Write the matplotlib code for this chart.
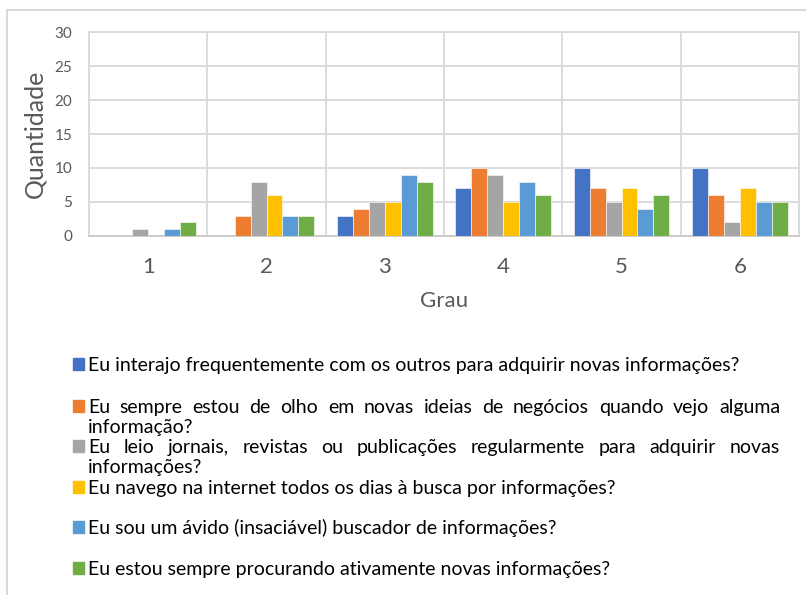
import numpy as np
import matplotlib.pyplot as plt
from matplotlib.patches import Rectangle

# data
grau = ['1', '2', '3', '4', '5', '6']
perguntas = [
    'Eu interajo frequentemente com os outros para adquirir novas informações?',
    'Eu sempre estou de olho em novas ideias de negócios quando vejo alguma informação?',
    'Eu leio jornais, revistas ou publicações regularmente para adquirir novas informações?',
    'Eu navego na internet todos os dias à busca por informações?',
    'Eu sou um ávido (insaciável) buscador de informações?',
    'Eu estou sempre procurando ativamente novas informações?',
]
interajo = [0, 0, 3, 7, 10, 10]
ideias = [0, 3, 4, 10, 7, 6]
jornais = [1, 8, 5, 9, 5, 2]
internet = [0, 6, 5, 5, 7, 7]
avido = [1, 3, 9, 8, 4, 5]
ativamente = [2, 3, 8, 6, 6, 5]
series = [interajo, ideias, jornais, internet, avido, ativamente]
cores = ['#4472C4', '#ED7D31', '#A5A5A5', '#FFC000', '#5B9BD5', '#70AD47']

plt.rcParams['font.family'] = ['Lato', 'DejaVu Sans']
W, H = 806, 595
grid_c = '#d9d9d9'
txt_c = '#595959'

fig = plt.figure(figsize=(W / 100, H / 100), dpi=100)

# outer chart frame (only top/left visible in the crop)
fig.patches.append(Rectangle((7 / W, -0.1), 1.2, 1 - 10 / H + 0.1,
                             transform=fig.transFigure, fill=False,
                             edgecolor=grid_c, linewidth=1.5))

ax = fig.add_axes([89 / W, 1 - 236 / H, 710 / W, 204 / H])
x = np.arange(len(grau))
width = 0.135
for i, (vals, cor) in enumerate(zip(series, cores)):
    ax.bar(x + (i - 2.5) * width, vals, width, color=cor,
           edgecolor='white', linewidth=0.4, zorder=3)

ax.set_xlim(-0.5, len(grau) - 0.5)
ax.set_ylim(0, 30)
ax.set_yticks(range(0, 31, 5))
ax.set_xticks(x)
ax.set_xticklabels(grau)
ax.set_xticks(np.arange(-0.5, len(grau), 1), minor=True)
ax.grid(True, which='major', axis='y', color=grid_c, linewidth=1.3, zorder=0)
ax.grid(True, which='minor', axis='x', color=grid_c, linewidth=1.3, zorder=0)
ax.tick_params(axis='y', length=0, pad=12, labelsize=11, labelcolor=txt_c)
ax.tick_params(axis='x', which='major', length=0, pad=15, labelsize=16,
               labelcolor=txt_c)
ax.tick_params(axis='x', which='minor', length=0)
for s in ax.spines.values():
    s.set_color(grid_c)
    s.set_linewidth(1.3)
ax.spines['bottom'].set_color('#c8c8c8')
ax.set_xlabel('Grau', fontsize=16, color=txt_c, labelpad=10)
ax.set_ylabel('Quantidade', fontsize=18, color=txt_c, labelpad=6)

# legend drawn by hand, with justified wrapped lines like the original
renderer = fig.canvas.get_renderer()
leg_size = 14
x0, x1 = 88, 780


def line(txt, base, justify=False):
    if not justify:
        fig.text(x0 / W, 1 - base / H, txt, fontsize=leg_size,
                 color='black', va='baseline')
        return
    words = txt.split()
    ts = [fig.text(0, 1 - base / H, w, fontsize=leg_size, color='black',
                   va='baseline') for w in words]
    ws = [t.get_window_extent(renderer).width for t in ts]
    gap = (x1 - x0 - sum(ws)) / (len(words) - 1)
    pos = x0
    for t, w in zip(ts, ws):
        t.set_x(pos / W)
        pos += w + gap


# (first line, second line) per entry and baselines in px
linhas = [
    (perguntas[0], None),
    ('Eu sempre estou de olho em novas ideias de negócios quando vejo alguma',
     'informação?'),
    ('Eu leio jornais, revistas ou publicações regularmente para adquirir novas',
     'informações?'),
    (perguntas[3], None),
    (perguntas[4], None),
    (perguntas[5], None),
]
bases = [371, 413, 453, 494, 534, 575]
for (l1, l2), b, cor in zip(linhas, bases, cores):
    fig.patches.append(Rectangle((73 / W, 1 - (b - 1) / H), 11 / W, 12 / H,
                                 transform=fig.transFigure, color=cor))
    line(l1, b, justify=l2 is not None)
    if l2:
        line(l2, b + 20)

fig.savefig('out.png', dpi=100)
